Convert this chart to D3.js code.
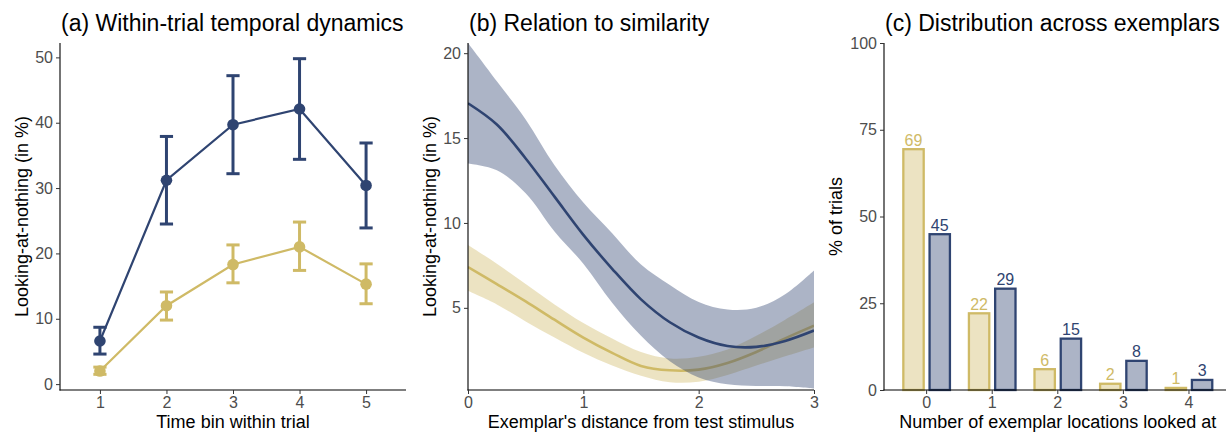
<!DOCTYPE html>
<html>
<head>
<meta charset="utf-8">
<script src="https://cdn.jsdelivr.net/npm/d3@7"></script>
<style>
  body { margin: 0; background: #fff; }
  svg { font-family: "Liberation Sans", Arial, sans-serif; }
  .tick text { fill: #4d4d4d; font-size: 16px; }
  .tick line { stroke: #333; }
</style>
</head>
<body>
<svg id="chart" width="1226" height="432"></svg>
<script>
// ---- data ----
// (a) within-trial temporal dynamics
var timeBins = [1, 2, 3, 4, 5];
var blueMean = [6.6, 31.2, 39.7, 42.1, 30.4];
var blueLow = [4.6, 24.5, 32.2, 34.4, 23.9];
var blueHigh = [8.7, 37.9, 47.2, 49.8, 36.9];
var goldMean = [2.0, 12.0, 18.3, 21.0, 15.3];
var goldLow = [1.5, 9.8, 15.5, 17.4, 12.3];
var goldHigh = [2.6, 14.1, 21.3, 24.8, 18.4];

// (b) relation to similarity (smooth fit + ribbon)
var distance = [0, 0.25, 0.5, 0.75, 1, 1.25, 1.5, 1.75, 2, 2.25, 2.5, 2.75, 3];
var blueFit = [17.05, 15.8, 13.8, 11.55, 9.3, 7.3, 5.5, 4.15, 3.25, 2.75, 2.7, 3.05, 3.66];
var blueFitLow = [13.5, 13.1, 11.75, 9.5, 7.6, 5.3, 3.35, 1.85, 0.9, 0.5, 0.4, 0.38, 0.25];
var blueFitHigh = [20.6, 18.35, 16.1, 13.4, 11.2, 9.4, 7.55, 6.35, 5.35, 4.9, 5.0, 5.8, 7.2];
var goldFit = [7.4, 6.4, 5.38, 4.3, 3.25, 2.35, 1.58, 1.32, 1.36, 1.75, 2.4, 3.2, 3.95];
var goldFitLow = [6.0, 5.2, 4.2, 3.25, 2.35, 1.6, 1.0, 0.62, 0.65, 1.05, 1.6, 2.15, 2.67];
var goldFitHigh = [8.7, 7.6, 6.4, 5.2, 4.1, 3.2, 2.4, 2.02, 2.12, 2.55, 3.35, 4.3, 5.33];

// (c) distribution across exemplars
var nLocations = ["0", "1", "2", "3", "4"];
var goldPct = [69.4, 22.1, 6.0, 1.8, 0.6];
var bluePct = [44.9, 29.2, 14.8, 8.4, 2.9];
var goldLabels = ["69", "22", "6", "2", "1"];
var blueLabels = ["45", "29", "15", "8", "3"];

var BLUE = "#2f4471", GOLD = "#cfba66";

var svg = d3.select("#chart");
var panelTop = 43, panelBottom = 390;

function axisLines(g, x0, x1) {
    g.append("line").attr("x1", x0).attr("x2", x0).attr("y1", panelTop).attr("y2", panelBottom + 0.5)
        .attr("stroke", "#000").attr("stroke-width", 1.1);
    g.append("line").attr("x1", x0 - 0.5).attr("x2", x1).attr("y1", panelBottom).attr("y2", panelBottom)
        .attr("stroke", "#000").attr("stroke-width", 1.1);
}

function titles(left, right, title, xTitle, yTitle, yTitleX) {
    svg.append("text").attr("x", left + 1).attr("y", 31).text(title)
        .style("font-size", "23px").style("fill", "#000");
    svg.append("text").attr("x", (left + right) / 2).attr("y", 428).text(xTitle)
        .attr("text-anchor", "middle").style("font-size", "18px").style("fill", "#000");
    svg.append("text").attr("transform", "translate(" + yTitleX + "," + ((panelTop + panelBottom) / 2) + ") rotate(-90)")
        .attr("text-anchor", "middle").text(yTitle).style("font-size", "18px").style("fill", "#000");
}

function drawAxes(g, left, y, yTicks, xAxis) {
    var ya = g.append("g").attr("transform", "translate(" + left + ",0)")
        .call(d3.axisLeft(y).tickValues(yTicks).tickSize(4).tickPadding(3));
    ya.select(".domain").remove();
    var xa = g.append("g").attr("transform", "translate(0," + panelBottom + ")")
        .call(xAxis);
    xa.select(".domain").remove();
}

// ---------- panel a ----------
(function () {
    var left = 60, right = 406;
    var x = d3.scaleLinear().domain([0.4, 5.6]).range([left, right]);
    var y = d3.scaleLinear().domain([-0.9, 52.2]).range([panelBottom, panelTop]);
    var g = svg.append("g");

    var groups = [
        {color: GOLD, mean: goldMean, lo: goldLow, hi: goldHigh},
        {color: BLUE, mean: blueMean, lo: blueLow, hi: blueHigh}
    ];
    var line = d3.line().x(function (d) { return x(d[0]); }).y(function (d) { return y(d[1]); });

    groups.forEach(function (s) {
        var pts = timeBins.map(function (t, i) { return [t, s.mean[i], s.lo[i], s.hi[i]]; });
        g.append("path").datum(pts).attr("d", line)
            .attr("fill", "none").attr("stroke", s.color).attr("stroke-width", 2.2);
        var eb = g.append("g").selectAll("g").data(pts).enter().append("g");
        eb.append("line").attr("x1", function (d) { return x(d[0]); }).attr("x2", function (d) { return x(d[0]); })
            .attr("y1", function (d) { return y(d[2]); }).attr("y2", function (d) { return y(d[3]); })
            .attr("stroke", s.color).attr("stroke-width", 3);
        [2, 3].forEach(function (k) {
            eb.append("line").attr("x1", function (d) { return x(d[0]) - 6.6; }).attr("x2", function (d) { return x(d[0]) + 6.6; })
                .attr("y1", function (d) { return y(d[k]); }).attr("y2", function (d) { return y(d[k]); })
                .attr("stroke", s.color).attr("stroke-width", 3);
        });
        g.append("g").selectAll("circle").data(pts).enter().append("circle")
            .attr("cx", function (d) { return x(d[0]); }).attr("cy", function (d) { return y(d[1]); })
            .attr("r", 5.8).attr("fill", s.color);
    });

    axisLines(g, left, right);
    drawAxes(g, left, y, [0, 10, 20, 30, 40, 50],
        d3.axisBottom(x).tickValues(timeBins).tickSize(4).tickPadding(3).tickFormat(d3.format("d")));
    titles(left, right, "(a) Within-trial temporal dynamics", "Time bin within trial", "Looking-at-nothing (in %)", 28);
})();

// ---------- panel b ----------
(function () {
    var left = 468, right = 814;
    var x = d3.scaleLinear().domain([0, 3]).range([left, right]);
    var y = d3.scaleLinear().domain([0.16, 20.6]).range([panelBottom, panelTop]);

    svg.append("clipPath").attr("id", "clipB").append("rect")
        .attr("x", left).attr("y", panelTop).attr("width", right - left).attr("height", panelBottom - panelTop);
    var g = svg.append("g");
    var plot = g.append("g").attr("clip-path", "url(#clipB)");

    var groups = [
        {color: GOLD, fit: goldFit, lo: goldFitLow, hi: goldFitHigh},
        {color: BLUE, fit: blueFit, lo: blueFitLow, hi: blueFitHigh}
    ];
    var area = d3.area().curve(d3.curveCatmullRom)
        .x(function (d) { return x(d.x); }).y0(function (d) { return y(d.lo); }).y1(function (d) { return y(d.hi); });
    var line = d3.line().curve(d3.curveCatmullRom)
        .x(function (d) { return x(d.x); }).y(function (d) { return y(d.fit); });

    groups.forEach(function (s) {
        var pts = distance.map(function (dx, i) { return {x: dx, fit: s.fit[i], lo: s.lo[i], hi: s.hi[i]}; });
        plot.append("path").datum(pts).attr("d", area).attr("fill", s.color).attr("fill-opacity", 0.4);
        plot.append("path").datum(pts).attr("d", line).attr("fill", "none")
            .attr("stroke", s.color).attr("stroke-width", 2.6);
    });

    axisLines(g, left, right);
    drawAxes(g, left, y, [5, 10, 15, 20],
        d3.axisBottom(x).tickValues([0, 1, 2, 3]).tickSize(4).tickPadding(3).tickFormat(d3.format("d")));
    titles(left, right, "(b) Relation to similarity", "Exemplar's distance from test stimulus", "Looking-at-nothing (in %)", 436);
})();

// ---------- panel c ----------
(function () {
    var left = 884, right = 1231.6;
    var x = d3.scaleBand().domain(nLocations).range([left, right]).paddingInner(0).paddingOuter(0.15);
    var xSub = d3.scaleBand().domain(["gold", "blue"])
        .range([x.bandwidth() * 0.1, x.bandwidth() * 0.9]).paddingInner(0.14).paddingOuter(0.07);
    var y = d3.scaleLinear().domain([0, 100]).range([panelBottom, panelTop]);
    var g = svg.append("g");

    var groups = [
        {key: "gold", color: GOLD, vals: goldPct, labels: goldLabels},
        {key: "blue", color: BLUE, vals: bluePct, labels: blueLabels}
    ];
    groups.forEach(function (s) {
        var pts = nLocations.map(function (c, i) { return {c: c, v: s.vals[i], lab: s.labels[i]}; });
        var bx = function (d) { return x(d.c) + xSub(s.key); };
        g.append("g").selectAll("rect").data(pts).enter().append("rect")
            .attr("x", function (d) { return bx(d) + 1.1; })
            .attr("y", function (d) { return y(d.v); })
            .attr("width", xSub.bandwidth() - 2.2)
            .attr("height", function (d) { return y(0) - y(d.v); })
            .attr("fill", s.color).attr("fill-opacity", 0.4)
            .attr("stroke", s.color).attr("stroke-width", 2.3);
        g.append("g").selectAll("text").data(pts).enter().append("text")
            .attr("x", function (d) { return bx(d) + xSub.bandwidth() / 2; })
            .attr("y", function (d) { return y(d.v) - 3.5; })
            .attr("text-anchor", "middle").text(function (d) { return d.lab; })
            .style("font-size", "16px").style("fill", s.color);
    });

    axisLines(g, left, 1226);
    drawAxes(g, left, y, [0, 25, 50, 75, 100],
        d3.axisBottom(x).tickSize(4).tickPadding(3));
    titles(left, right, "(c) Distribution across exemplars", "Number of exemplar locations looked at", "% of trials", 842);
})();
</script>
</body>
</html>
